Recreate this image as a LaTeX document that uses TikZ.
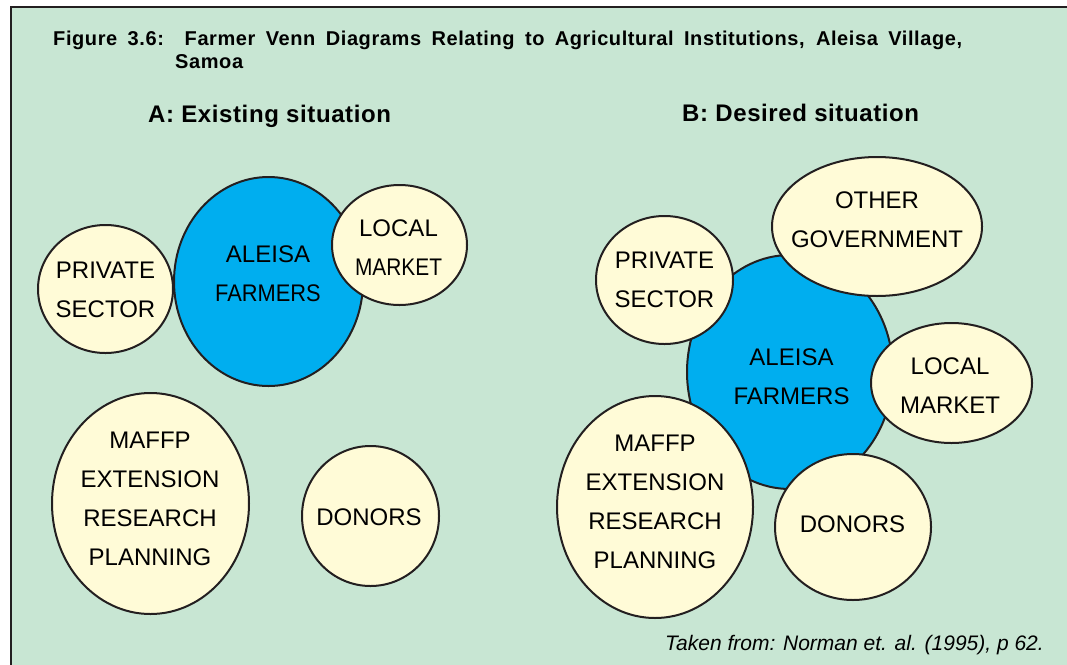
\documentclass[tikz,border=0pt]{standalone}
\usepackage{fontspec}
\setmainfont{Liberation Sans}
\usetikzlibrary{shapes.geometric}

\definecolor{bggreen}{RGB}{200,230,211}
\definecolor{farmblue}{RGB}{0,174,239}
\definecolor{instyellow}{RGB}{255,251,215}
\definecolor{edgegray}{RGB}{35,31,32}

\begin{document}
\begin{tikzpicture}[x=1pt,y=-1pt,
  inst node/.style={ellipse,draw=edgegray,line width=2pt,fill=instyellow,inner sep=0pt},
  farm node/.style={inst node,fill=farmblue},
  label text/.style={align=center,inner sep=0pt,font=\fontsize{24}{39}\selectfont},
  title text/.style={anchor=base west,inner sep=0pt,font=\fontsize{20}{23}\selectfont\bfseries\addfontfeatures{LetterSpace=3}},
  head text/.style={anchor=base west,inner sep=0pt,font=\fontsize{24}{28}\selectfont\bfseries\addfontfeatures{LetterSpace=2.5}}]

  \useasboundingbox (0,0) rectangle (1067,664);
  \fill[bggreen] (11,7) rectangle (1080,680);
  \draw[edgegray,line width=1.5pt] (11,680) -- (11,7) -- (1080,7);

  % title and headings
  \node[title text] (title) at (53,45)
    {\makebox[909pt][s]{Figure 3.6:\ \ Farmer Venn Diagrams Relating to Agricultural Institutions, Aleisa Village,}};
  \node[title text] (title2) at (175,68) {Samoa};
  \node[head text] (headA) at (148,122) {A: Existing situation};
  \node[head text] (headB) at (682,121) {B: Desired situation};

  % A: existing situation
  \node[inst node,minimum width=135pt,minimum height=128pt] (a1) at (105.5,289) {};
  \node[farm node,minimum width=189pt,minimum height=209pt] (a2) at (268.5,281.5) {};
  \node[inst node,minimum width=135pt,minimum height=120pt] (a3) at (399.5,245) {};
  \node[inst node,minimum width=197pt,minimum height=221pt] (a4) at (150.5,503.5) {};
  \node[inst node,minimum width=137pt,minimum height=140pt] (a5) at (370.5,516) {};

  \node[label text] (ta1) at (105.5,289.5) {PRIVATE\\SECTOR};
  \node[label text] (ta2) at (268,273.5) {ALEISA\\\scalebox{0.91}[1]{FARMERS}};
  \node[label text] (ta3) at (398.5,247.5) {LOCAL\\\scalebox{0.87}[1]{MARKET}};
  \node[label text] (ta4) at (150,498.5) {MAFFP\\EXTENSION\\RESEARCH\\PLANNING};
  \node[label text] (ta5) at (369,517.5) {DONORS};

  % B: desired situation
  \node[farm node,minimum width=206pt,minimum height=234pt] (b1) at (790,372) {};
  \node[inst node,minimum width=137pt,minimum height=128pt] (b2) at (664.5,280) {};
  \node[inst node,minimum width=210pt,minimum height=139pt] (b3) at (877,226.5) {};
  \node[inst node,minimum width=161pt,minimum height=120pt] (b4) at (951.5,383) {};
  \node[inst node,minimum width=196pt,minimum height=222pt] (b5) at (655,507) {};
  \node[inst node,minimum width=156pt,minimum height=146pt] (b6) at (853,527) {};

  \node[label text] (tb1) at (791.5,376.5) {ALEISA\\FARMERS};
  \node[label text] (tb2) at (664.5,279.5) {PRIVATE\\SECTOR};
  \node[label text] (tb3) at (877,220) {OTHER\\GOVERNMENT};
  \node[label text] (tb4) at (950,385.5) {LOCAL\\MARKET};
  \node[label text] (tb5) at (655,501.5) {MAFFP\\EXTENSION\\RESEARCH\\PLANNING};
  \node[label text] (tb6) at (852.5,524) {DONORS};

  % source
  \node[anchor=base east,inner sep=0pt,font=\fontsize{21}{25}\selectfont\itshape] (src) at (1044,650)
    {Taken from: Norman et. al. (1995), p 62.};
\end{tikzpicture}
\end{document}
